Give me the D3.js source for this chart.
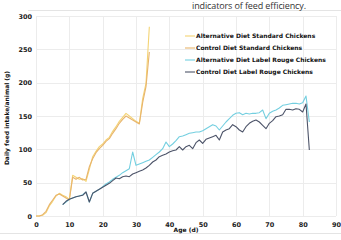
<!DOCTYPE html>
<html>
<head>
<meta charset="utf-8">
<script src="https://cdn.jsdelivr.net/npm/d3@7"></script>
<style>
	body { margin: 0; background: #fff; }
	svg { display: block; }
</style>
</head>
<body>
<svg id="chart"></svg>
<script>
const width = 341
const height = 240

// Standard chickens, days 0-34
const standardDays = d3.range(0, 35)
const altStandard = [0, 0, 1, 5, 15, 22, 30, 34, 31, 29, 25, 61, 58, 55, 56, 52, 70, 89, 97, 104, 108, 114, 118, 127, 134, 142, 148, 154, 150, 146, 142, 139, 176, 199, 284]
const ctrlStandard = [0, 0, 2, 7, 17, 24, 31, 33, 30, 27, 24, 58, 55, 58, 54, 55, 74, 86, 95, 101, 106, 112, 116, 124, 131, 139, 145, 150, 147, 144, 141, 138, 170, 194, 246]

// Label Rouge chickens, days 8-82
const rougeDays = d3.range(8, 83)
const altRouge = [17, 21, 25, 27, 29, 30, 32, 36, 21, 34, 37, 40, 44, 48, 51, 55, 58, 61, 65, 68, 71, 96, 76, 78, 80, 82, 84, 88, 92, 96, 101, 111, 104, 108, 113, 119, 120, 122, 124, 125, 126, 126, 128, 131, 134, 137, 135, 129, 135, 141, 146, 151, 154, 155, 152, 154, 153, 154, 154, 155, 159, 146, 154, 157, 159, 162, 166, 167, 168, 169, 169, 168, 170, 180, 141]
const ctrlRouge = [17, 22, 25, 27, 29, 30, 31, 36, 21, 34, 37, 40, 43, 46, 49, 53, 57, 56, 59, 60, 59, 63, 65, 67, 69, 72, 76, 81, 84, 89, 91, 93, 96, 98, 99, 104, 99, 104, 106, 101, 110, 114, 109, 115, 117, 119, 121, 114, 126, 129, 131, 137, 134, 129, 126, 134, 139, 142, 144, 141, 136, 131, 139, 143, 149, 150, 152, 160, 160, 159, 161, 160, 156, 168, 99]

const seriesNames = [
	"Alternative Diet Standard Chickens",
	"Control Diet Standard Chickens",
	"Alternative Diet Label Rouge Chickens",
	"Control Diet Label Rouge Chickens"
]
const seriesColors = ["#f4d474", "#e8b46c", "#74cfe0", "#4d5469"]
const xTicks = [0, 10, 20, 30, 40, 50, 60, 70, 80, 90]
const yTicks = [0, 50, 100, 150, 200, 250, 300]

const series = [
	{ days: standardDays, values: altStandard },
	{ days: standardDays, values: ctrlStandard },
	{ days: rougeDays, values: altRouge },
	{ days: rougeDays, values: ctrlRouge }
]

const margin = { top: 16, right: 5, bottom: 24, left: 36 }
const labelFont = "DejaVu Sans, Verdana, sans-serif"

const x = d3.scaleLinear()
	.domain([0, 90])
	.range([margin.left, width - margin.right])

const y = d3.scaleLinear()
	.domain([0, 300])
	.range([height - margin.bottom, margin.top])

const svg = d3.select("#chart")
	.attr("width", width)
	.attr("height", height)
	.style("font-family", labelFont)

// Page frame lines and the caption above the figure
svg.append("line")
	.attr("x1", 28).attr("x2", width)
	.attr("y1", 10.5).attr("y2", 10.5)
	.attr("stroke", "#e4e4e4")
svg.append("line")
	.attr("x1", 0).attr("x2", width)
	.attr("y1", 233.5).attr("y2", 233.5)
	.attr("stroke", "#e4e4e4")

svg.append("text")
	.attr("x", 192)
	.attr("y", 8.5)
	.attr("textLength", 114)
	.style("font-family", "Open Sans, sans-serif")
	.style("font-size", "9px")
	.style("fill", "#333")
	.text("indicators of feed efficiency.")

// Grid
svg.append("g")
	.selectAll("line")
	.data(yTicks)
	.enter().append("line")
	.attr("x1", x(0)).attr("x2", x(90))
	.attr("y1", d => Math.round(y(d)) + 0.5)
	.attr("y2", d => Math.round(y(d)) + 0.5)
	.attr("stroke", "#ececec")

svg.append("g")
	.selectAll("line")
	.data(xTicks)
	.enter().append("line")
	.attr("x1", d => Math.round(x(d)) + 0.5)
	.attr("x2", d => Math.round(x(d)) + 0.5)
	.attr("y1", y(0)).attr("y2", y(300))
	.attr("stroke", "#ececec")

// Axes (labels only)
const yAxis = svg.append("g")
	.attr("transform", `translate(${margin.left - 4},0)`)
	.call(d3.axisLeft(y).tickValues(yTicks).tickSize(0).tickPadding(0))
yAxis.select(".domain").remove()

const xAxis = svg.append("g")
	.attr("transform", `translate(0,${y(0) + 6})`)
	.call(d3.axisBottom(x).tickValues(xTicks).tickSize(0).tickPadding(0))
xAxis.select(".domain").remove()

svg.selectAll(".tick text")
	.style("font-family", labelFont)
	.style("font-size", "6.5px")
	.style("font-weight", "bold")
	.style("fill", "#222")

// Axis titles
svg.append("text")
	.attr("transform", `translate(9,${y(150) + 2}) rotate(-90)`)
	.attr("text-anchor", "middle")
	.style("font-size", "6px")
	.style("font-weight", "bold")
	.style("fill", "#111")
	.text("Daily feed intake/animal (g)")

svg.append("text")
	.attr("x", 186)
	.attr("y", 232)
	.attr("text-anchor", "middle")
	.style("font-size", "6px")
	.style("font-weight", "bold")
	.style("fill", "#111")
	.text("Age (d)")

// Lines
const line = d3.line()
	.x(d => x(d[0]))
	.y(d => y(d[1]))

svg.append("g")
	.selectAll("path")
	.data(series)
	.enter().append("path")
	.attr("d", d => line(d.days.map((day, i) => [day, d.values[i]])))
	.attr("fill", "none")
	.attr("stroke", (d, i) => seriesColors[i])
	.attr("stroke-width", 1.1)
	.attr("stroke-linejoin", "round")

// Legend
const legend = svg.append("g")
	.selectAll("g")
	.data(seriesNames)
	.enter().append("g")
	.attr("transform", (d, i) => `translate(185,${36 + i * 12})`)

legend.append("line")
	.attr("x1", 0).attr("x2", 10)
	.attr("stroke", (d, i) => seriesColors[i])
	.attr("stroke-width", 1.1)

legend.append("text")
	.attr("x", 11)
	.attr("dy", "0.35em")
	.style("font-size", "6px")
	.style("font-weight", "bold")
	.style("fill", "#111")
	.text(d => d)
</script>
</body>
</html>
